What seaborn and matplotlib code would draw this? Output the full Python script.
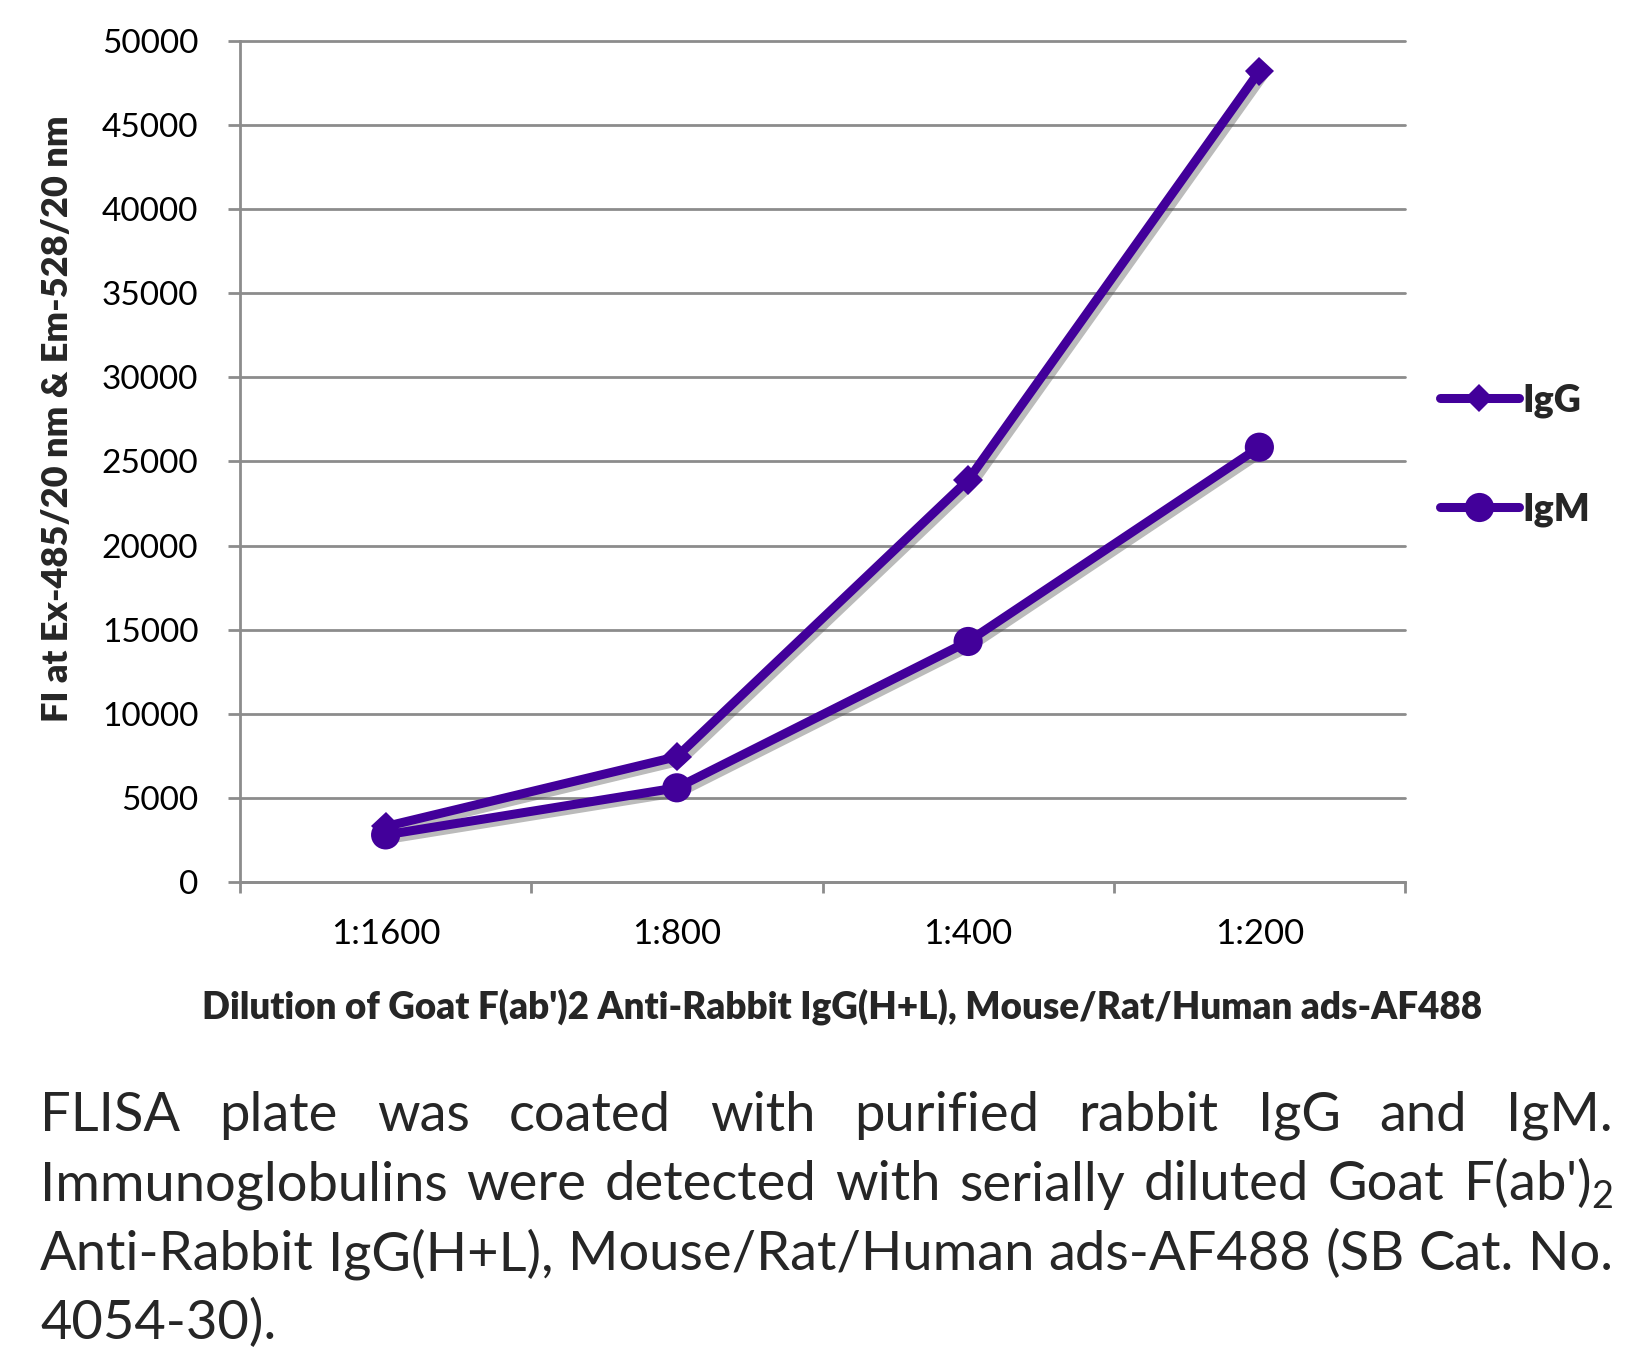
# FLISA titration chart: IgG vs IgM signal over serial dilutions

import numpy as np
import pandas as pd
import seaborn as sns
import matplotlib.pyplot as plt
import matplotlib.patheffects as pe
from matplotlib.lines import Line2D

# Data
dilutions = ["1:1600", "1:800", "1:400", "1:200"]
igg = [3300, 7450, 23900, 48200]
igm = [2800, 5600, 14300, 25850]
series = ["IgG", "IgM"]
yticks = np.arange(0, 50001, 5000)

xlabel = "Dilution of Goat F(ab')2 Anti-Rabbit IgG(H+L), Mouse/Rat/Human ads-AF488"
ylabel = "FI at Ex-485/20 nm & Em-528/20 nm"
caption = [
    "FLISA plate was coated with purified rabbit IgG and IgM.",
    "Immunoglobulins were detected with serially diluted Goat F(ab')$_\\mathrm{2}$",
    "Anti-Rabbit IgG(H+L), Mouse/Rat/Human ads-AF488 (SB Cat. No.",
    "4054-30).",
]

purple = "#42009a"
grid_col = "#8c8c8c"

df = pd.DataFrame({
    "pos": list(range(len(dilutions))) * 2,
    "FI": igg + igm,
    "Antibody": [series[0]] * len(igg) + [series[1]] * len(igm),
})

sns.set_theme(style="white")
plt.rcParams["font.family"] = ["Lato", "DejaVu Sans"]
plt.rcParams["mathtext.fontset"] = "custom"
plt.rcParams["mathtext.rm"] = "Lato"

W, H = 1650, 1353
fig = plt.figure(figsize=(W / 100, H / 100), dpi=100)
fig.patch.set_facecolor("white")
ax = fig.add_axes([240 / W, 1 - 882 / H, (1405 - 240) / W, (882 - 41) / H])

shadow = [pe.SimpleLineShadow(offset=(3, -3), shadow_color="#555555", alpha=0.4), pe.Normal()]

sns.lineplot(data=df, x="pos", y="FI", hue="Antibody", style="Antibody",
             markers={"IgG": "D", "IgM": "o"}, dashes=False,
             palette={"IgG": purple, "IgM": purple}, linewidth=6.5,
             markersize=21, markeredgewidth=0, legend=False, ax=ax, zorder=3)

for line in ax.lines:
    line.set_path_effects(shadow)
    line.set_solid_joinstyle("round")
    if line.get_marker() == "D":
        line.set_markersize(15)

ax.set_xlim(-0.5, len(dilutions) - 0.5)
ax.set_ylim(0, 50000)
ax.set_yticks(yticks)
ax.set_yticklabels([str(v) for v in yticks])
ax.set_xticks(range(len(dilutions)))
ax.set_xticklabels(dilutions)
ax.set_xticks(np.arange(-0.5, len(dilutions), 1), minor=True)
ax.set_xlabel("")
ax.set_ylabel("")

ax.yaxis.grid(True, color=grid_col, linewidth=2)
ax.xaxis.grid(False)
ax.set_axisbelow(True)
for gl in ax.get_ygridlines():
    gl.set_clip_on(False)

for side in ["top", "right"]:
    ax.spines[side].set_visible(False)
for side in ["left", "bottom"]:
    ax.spines[side].set_color(grid_col)
    ax.spines[side].set_linewidth(2)

ax.tick_params(axis="y", which="major", left=True, length=9, width=2, color=grid_col,
               pad=21, labelsize=24, labelcolor="black")
ax.tick_params(axis="x", which="major", bottom=True, length=0, pad=26, labelsize=25,
               labelcolor="black")
ax.tick_params(axis="x", which="minor", bottom=True, length=8, width=2, color=grid_col)

# axis titles
fig.text(842 / W, 1 - 1007 / H, xlabel, ha="center", va="center",
         fontsize=26.5, fontweight="heavy")
fig.text(58 / W, 1 - 419 / H, ylabel, ha="center", va="center", rotation=90,
         fontsize=26, fontweight="heavy")

# legend
handles = [
    Line2D([], [], color=purple, lw=6.5, marker="D", ms=14, mew=0, solid_capstyle="round"),
    Line2D([], [], color=purple, lw=6.5, marker="o", ms=21, mew=0, solid_capstyle="round"),
]
fig.legend(handles, series, loc="center left", bbox_to_anchor=(1440 / W, 1 - 455 / H),
           bbox_transform=fig.transFigure, frameon=False, handlelength=2.1,
           handletextpad=0.1, labelspacing=2.0, borderpad=0, borderaxespad=0,
           prop={"weight": "heavy", "size": 27})

# caption, justified like the original
renderer = fig.canvas.get_renderer()
left_px, right_px = 40, 1613
baselines = [1131, 1200.5, 1270, 1339.5]


def natural_width(words, size):
    total = 0
    for w in words:
        t = fig.text(0, 0, w, fontsize=size)
        total += t.get_window_extent(renderer).width
        t.remove()
    return total


cap_size = 42
space = natural_width(["a b"], cap_size) - natural_width(["ab"], cap_size)
widest = max(natural_width(l.split(" "), cap_size) + space * (len(l.split(" ")) - 1)
             for l in caption[1:3])
if widest > right_px - left_px:
    cap_size = cap_size * (right_px - left_px) / widest

for i, line in enumerate(caption):
    words = line.split(" ")
    y = 1 - baselines[i] / H
    texts = [fig.text(0, y, w, fontsize=cap_size, va="baseline") for w in words]
    widths = [t.get_window_extent(renderer).width for t in texts]
    if i < len(caption) - 1 and len(words) > 1:
        gap = (right_px - left_px - sum(widths)) / (len(words) - 1)
    else:
        gap = natural_width(["a b"], cap_size) - natural_width(["ab"], cap_size)
    x = left_px
    for t, w in zip(texts, widths):
        t.set_x(x / W)
        x += w + gap

fig.savefig("out.png", dpi=100, facecolor="white")
plt.close(fig)
